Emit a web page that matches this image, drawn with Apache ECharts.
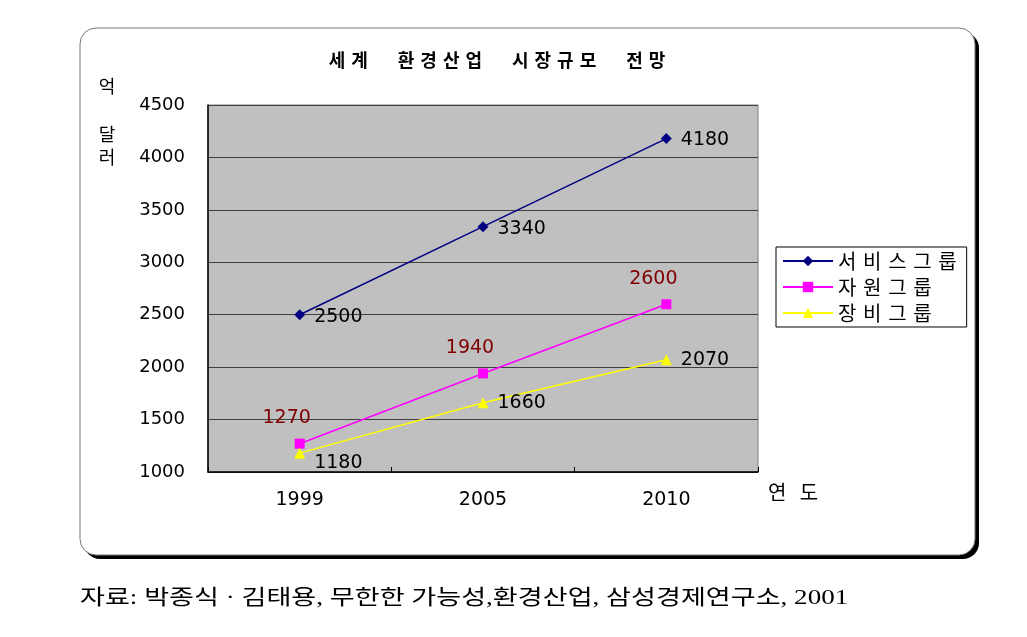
<!DOCTYPE html>
<html>
<head>
<meta charset="utf-8">
<script src="https://cdn.jsdelivr.net/npm/echarts@6/dist/echarts.min.js"></script>
<style>
html,body{margin:0;padding:0;background:#fff;}
#c{width:1027px;height:637px;}
</style>
</head>
<body>
<div id="c"></div>
<script>
const categories = ['1999', '2005', '2010'];
const serviceGroup = [2500, 3340, 4180];
const resourceGroup = [1270, 1940, 2600];
const equipGroup = [1180, 1660, 2070];
const seriesNames = ['서비스그룹', '자원그룹', '장비그룹'];
const yTicks = [1000, 1500, 2000, 2500, 3000, 3500, 4000, 4500];

const NUM_FONT = 'DejaVu Sans';
const KR_FONT = 'Noto Sans CJK KR';
const SP = '\u2004';                    // narrow letter gap
const WSP = '\u3000\u2004\u2004';       // word gap
const spaced = s => s.split(' ').map(w => w.split('').join(SP)).join(WSP);

const chart = echarts.init(document.getElementById('c'));
chart.setOption({
  animation: false,
  backgroundColor: '#fff',
  title: {
    text: spaced('세계 환경산업 시장규모 전망'),
    left: 492, top: 46, textAlign: 'center',
    textStyle: {fontFamily: KR_FONT, fontSize: 18, fontWeight: 'bold', color: '#000'}
  },
  grid: {
    left: 208, top: 105, width: 550, height: 367,
    show: true, backgroundColor: '#c0c0c0', borderColor: '#808080', borderWidth: 1
  },
  legend: {
    orient: 'vertical', left: 776, top: 247,
    backgroundColor: '#fff', borderColor: '#000', borderWidth: 1,
    padding: [4, 10, 4, 6], itemGap: 6, itemWidth: 50, itemHeight: 13,
    formatter: n => n.split('').join(SP),
    textStyle: {fontFamily: KR_FONT, fontSize: 20, color: '#000'},
    data: seriesNames
  },
  xAxis: {
    type: 'category', data: categories, boundaryGap: true,
    axisLine: {lineStyle: {color: '#000', width: 1.5}},
    axisTick: {show: true, inside: true, length: 5, lineStyle: {color: '#000'}},
    axisLabel: {fontFamily: NUM_FONT, fontSize: 19, color: '#000', margin: 19}
  },
  yAxis: {
    type: 'value', min: yTicks[0], max: yTicks[yTicks.length - 1], interval: 500,
    axisLine: {show: true, lineStyle: {color: '#000', width: 1.5}},
    axisTick: {show: false},
    splitLine: {lineStyle: {color: '#404040', width: 1}},
    axisLabel: {fontFamily: NUM_FONT, fontSize: 18, color: '#000', margin: 23,
      formatter: v => String(v)}
  },
  series: [
    {
      name: seriesNames[0], type: 'line', data: serviceGroup,
      symbol: 'diamond', symbolSize: 11,
      lineStyle: {color: '#000080', width: 1.5}, itemStyle: {color: '#000080'},
      label: {show: true, position: 'right', distance: 9, offset: [0, 2],
        fontFamily: NUM_FONT, fontSize: 19, color: '#000'}
    },
    {
      name: seriesNames[1], type: 'line', data: resourceGroup,
      symbol: 'rect', symbolSize: 10,
      lineStyle: {color: '#ff00ff', width: 1.5}, itemStyle: {color: '#ff00ff'},
      label: {show: true, position: 'top', distance: 11, offset: [-13, 0],
        fontFamily: NUM_FONT, fontSize: 19, color: '#800000'}
    },
    {
      name: seriesNames[2], type: 'line',
      data: equipGroup.map((v, i) => i === 0 ? {value: v, label: {offset: [0, 10]}} : v),
      symbol: 'triangle', symbolSize: 11,
      lineStyle: {color: '#ffff00', width: 1.5}, itemStyle: {color: '#ffff00'},
      label: {show: true, position: 'right', distance: 9,
        fontFamily: NUM_FONT, fontSize: 19, color: '#000'}
    }
  ],
  graphic: [
    {type: 'rect', z: -100, shape: {x: 84, y: 32, width: 895, height: 527, r: 16},
      style: {fill: '#000'}},
    {type: 'rect', z: -99, shape: {x: 80, y: 28, width: 895, height: 527, r: 16},
      style: {fill: '#fff', stroke: '#777', lineWidth: 1}},
    {type: 'text', x: 107, y: 86, style: {text: '억', fontFamily: KR_FONT, fontSize: 18, fill: '#000', align: 'center', verticalAlign: 'middle'}},
    {type: 'text', x: 107, y: 146, style: {text: '달\n러', fontFamily: KR_FONT, fontSize: 18, lineHeight: 23, fill: '#000', align: 'center', verticalAlign: 'middle'}},
    {type: 'text', x: 793, y: 492, style: {text: '연' + SP + SP + '도', fontFamily: KR_FONT, fontSize: 20, fill: '#000', align: 'center', verticalAlign: 'middle'}},
    {type: 'text', x: 80, y: 598, scaleX: 1.29, originX: 0, originY: 0,
      style: {text: '자료: 박종식 · 김태용, 무한한 가능성,환경산업, 삼성경제연구소, 2001', fontFamily: 'Liberation Serif, ' + KR_FONT, fontSize: 21, fill: '#000', align: 'left', verticalAlign: 'middle'}}
  ]
});
</script>
</body>
</html>
